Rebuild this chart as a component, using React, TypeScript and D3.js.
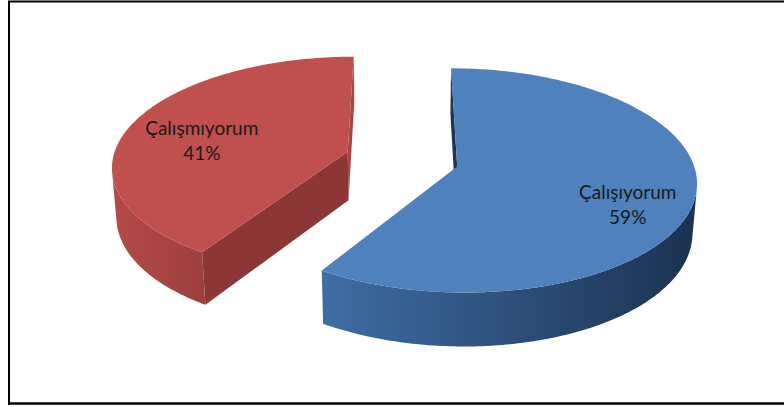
import React from 'react';
import * as d3 from 'd3';

// ---- data ----
const categories: string[] = ['Çalışıyorum', 'Çalışmıyorum'];
const values: number[] = [59, 41];
const percentLabels: string[] = ['59%', '41%'];

// ---- styles ----
const topColors = ['#4F81BD', '#C0504D'];
const sideLight = ['#3F6DA5', '#B44A47'];
const sideDark = ['#1B3250', '#9E3F3D'];
const startFaceColors = ['#1E3654', '#8C3735'];
const endFaceColors = ['#1E3654', '#A94643'];

const W = 784;
const H = 407;
const CX = 402;
const CY = 159;
const R = 235;
const DIST = 1680;
const ELEV = (27.5 * Math.PI) / 180;
const THICK = 56;
const EXPLODE = 57;
const LABEL_RX = 0.7;
const LABEL_RZ = 0.81;
const LABEL_DX = 5;
const LABEL_DY = 13;

const sE = Math.sin(ELEV);
const cE = Math.cos(ELEV);
const CAM = [0, DIST * sE, DIST * cE];

function project(x: number, y: number, z: number): [number, number] {
  const v = y * cE - z * sE;
  const depth = DIST - (y * sE + z * cE);
  const k = DIST / depth;
  return [CX + x * k, CY - v * k];
}

function visible(n: number[], p: number[]) {
  return n[0] * (CAM[0] - p[0]) + n[1] * (CAM[1] - p[1]) + n[2] * (CAM[2] - p[2]) > 0;
}

const pathOf = (pts: [number, number][]) => d3.line()(pts)! + 'Z';

export default function App() {
  const pie = d3.pie<number>().sort(null).value((d) => d);
  const arcs = pie(values);

  const slices = arcs.map((a, i) => {
    const a0 = a.startAngle;
    const a1 = a.endAngle;
    const mid = (a0 + a1) / 2;
    const ox = EXPLODE * Math.sin(mid);
    const oz = -EXPLODE * Math.cos(mid);
    const rim = (phi: number, y: number, r = R) =>
      [ox + r * Math.sin(phi), y, oz - r * Math.cos(phi)] as [number, number, number];
    const N = 240;
    const phis = d3.range(N + 1).map((j) => a0 + ((a1 - a0) * j) / N);

    // top face
    const topPts: [number, number][] = [project(ox, 0, oz), ...phis.map((p) => project(...rim(p, 0)))];

    // outer side runs
    const runs: number[][] = [];
    let cur: number[] = [];
    phis.forEach((p) => {
      const n = [Math.sin(p), 0, -Math.cos(p)];
      if (visible(n, rim(p, -THICK / 2))) cur.push(p);
      else if (cur.length) {
        runs.push(cur);
        cur = [];
      }
    });
    if (cur.length) runs.push(cur);
    const sidePaths = runs
      .filter((r) => r.length > 1)
      .map((r) => {
        const t = r.map((p) => project(...rim(p, 0)));
        const b = r.map((p) => project(...rim(p, -THICK))).reverse();
        const pts = [...t, ...b];
        const xs = pts.map((q) => q[0]);
        return { d: pathOf(pts), x0: d3.min(xs)!, x1: d3.max(xs)! };
      });

    // cut faces
    const faces: { d: string; color: string }[] = [];
    const center: [number, number, number] = [ox, 0, oz];
    const addFace = (phi: number, nphi: number, color: string) => {
      const n = [Math.sin(nphi), 0, -Math.cos(nphi)];
      if (!visible(n, center)) return;
      const pts = [
        project(ox, 0, oz),
        project(...rim(phi, 0)),
        project(...rim(phi, -THICK)),
        project(ox, -THICK, oz),
      ];
      faces.push({ d: pathOf(pts), color });
    };
    addFace(a0, a0 - Math.PI / 2, startFaceColors[i]);
    addFace(a1, a1 + Math.PI / 2, endFaceColors[i]);

    const lp = project(
      ox + LABEL_RX * R * Math.sin(mid),
      0,
      oz - LABEL_RZ * R * Math.cos(mid)
    );

    return { i, top: pathOf(topPts), sidePaths, faces, label: [lp[0] + LABEL_DX, lp[1] + LABEL_DY] };
  });

  return (
    <svg
      width={W}
      height={H}
      style={{ position: 'absolute', left: 0, top: 0, display: 'block', background: '#fff' }}
    >
      <defs>
        {slices.map((s) =>
          s.sidePaths.map((sp, k) => (
            <linearGradient
              key={`g${s.i}-${k}`}
              id={`side${s.i}-${k}`}
              gradientUnits="userSpaceOnUse"
              x1={sp.x0}
              x2={sp.x1}
              y1={0}
              y2={0}
            >
              <stop offset="0" stopColor={sideLight[s.i]} />
              <stop offset="1" stopColor={sideDark[s.i]} />
            </linearGradient>
          ))
        )}
      </defs>
      <rect x={0} y={0} width={W} height={H} fill="#fff" />
      {slices.map((s) => (
        <g key={s.i}>
          {s.faces.map((f, k) => (
            <path key={k} d={f.d} fill={f.color} />
          ))}
          {s.sidePaths.map((sp, k) => (
            <path key={k} d={sp.d} fill={`url(#side${s.i}-${k})`} />
          ))}
          <path d={s.top} fill={topColors[s.i]} />
          <text
            x={s.label[0]}
            y={s.label[1]}
            textAnchor="middle"
            fontFamily="Lato, 'Open Sans', sans-serif"
            fontSize={19}
            fill="#1a1a1a"
          >
            <tspan x={s.label[0]} dy={-6}>
              {categories[s.i]}
            </tspan>
            <tspan x={s.label[0]} dy={25}>
              {percentLabels[s.i]}
            </tspan>
          </text>
        </g>
      ))}
      <line x1={9} y1={1} x2={9} y2={405} stroke="#000" strokeWidth={2} />
      <line x1={8} y1={1.5} x2={W} y2={1.5} stroke="#000" strokeWidth={2} />
      <line x1={8} y1={403.5} x2={W} y2={403.5} stroke="#000" strokeWidth={2.5} />
    </svg>
  );
}
